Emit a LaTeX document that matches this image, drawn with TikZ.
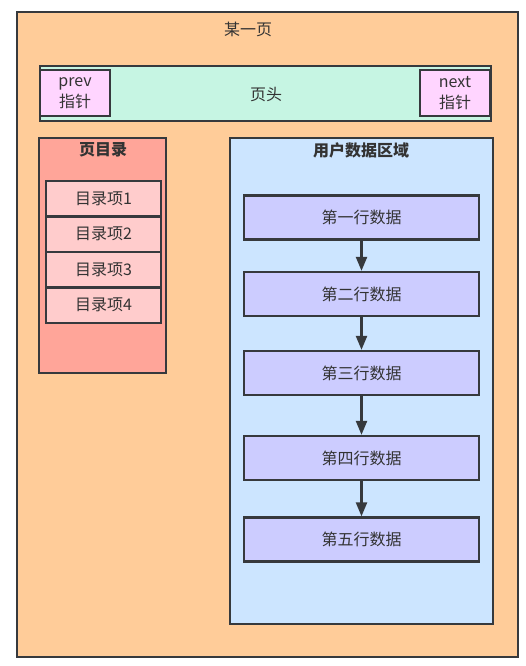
\documentclass[tikz,border=0pt]{standalone}
\usepackage{fontspec}
\setmainfont{Noto Sans CJK SC}
\usetikzlibrary{arrows.meta}
\definecolor{pageC}{HTML}{FFCC99}
\definecolor{headC}{HTML}{C6F5E3}
\definecolor{ptrC}{HTML}{FFD5FF}
\definecolor{dirC}{HTML}{FFA599}
\definecolor{itemC}{HTML}{FFCCCC}
\definecolor{userC}{HTML}{CCE5FF}
\definecolor{rowC}{HTML}{CCCCFF}
\definecolor{lineC}{HTML}{36393D}
\definecolor{textC}{HTML}{333333}
\tikzset{
  box/.style={draw=lineC, line width=2.3pt, text=textC, inner sep=0pt},
  rowbox/.style={box, fill=rowC, minimum width=235pt, minimum height=44pt, font=\fontsize{16}{18}\selectfont},
  itembox/.style={box, fill=itemC, minimum width=115pt, minimum height=35.5pt, font=\fontsize{16}{18}\selectfont},
  ptrbox/.style={box, fill=ptrC, minimum width=70pt, minimum height=46pt, align=center, font=\fontsize{16}{21}\selectfont},
  flow/.style={draw=lineC, line width=2.3pt, -{Triangle[length=14pt,width=11pt]}},
}
\begin{document}
\begin{tikzpicture}[x=1pt,y=-1pt]
\useasboundingbox (0,0) rectangle (526,666);
\fill[white] (0,0) rectangle (526,666);
% outer page
\node[box, fill=pageC, minimum width=501pt, minimum height=645pt] (page) at (267.5,334.5) {};
\node[text=textC, font=\fontsize{16}{18}\selectfont] (pagetitle) at (248,29) {某一页};
% header
\node[box, fill=headC, minimum width=451pt, minimum height=55pt] (head) at (265.5,93.5) {};
\node[text=textC, font=\fontsize{16}{18}\selectfont] (headtitle) at (266,95) {页头};
\node[ptrbox] (prev) at (75,93) {prev\\指针};
\node[ptrbox] (next) at (455,93) {next\\指针};
% directory
\node[box, fill=dirC, minimum width=127pt, minimum height=235pt] (dir) at (102.5,255.5) {};
\node[text=textC, font=\bfseries\fontsize{16}{18}\selectfont] (dirtitle) at (103,150) {页目录};
\node[itembox] (i1) at (103.5,198.75) {目录项1};
\node[itembox] (i2) at (103.5,234.25) {目录项2};
\node[itembox] (i3) at (103.5,269.75) {目录项3};
\node[itembox] (i4) at (103.5,305.25) {目录项4};
% user data
\node[box, fill=userC, minimum width=263pt, minimum height=486pt] (user) at (361.5,381) {};
\node[text=textC, font=\bfseries\fontsize{16}{18}\selectfont] (usertitle) at (361,150) {用户数据区域};
\node[rowbox] (r1) at (361.5,217.5) {第一行数据};
\node[rowbox] (r2) at (361.5,294) {第二行数据};
\node[rowbox] (r3) at (361.5,373) {第三行数据};
\node[rowbox] (r4) at (361.5,458) {第四行数据};
\node[rowbox] (r5) at (361.5,539.5) {第五行数据};
\draw[flow] (r1) -- (r2);
\draw[flow] (r2) -- (r3);
\draw[flow] (r3) -- (r4);
\draw[flow] (r4) -- (r5);
\end{tikzpicture}
\end{document}
